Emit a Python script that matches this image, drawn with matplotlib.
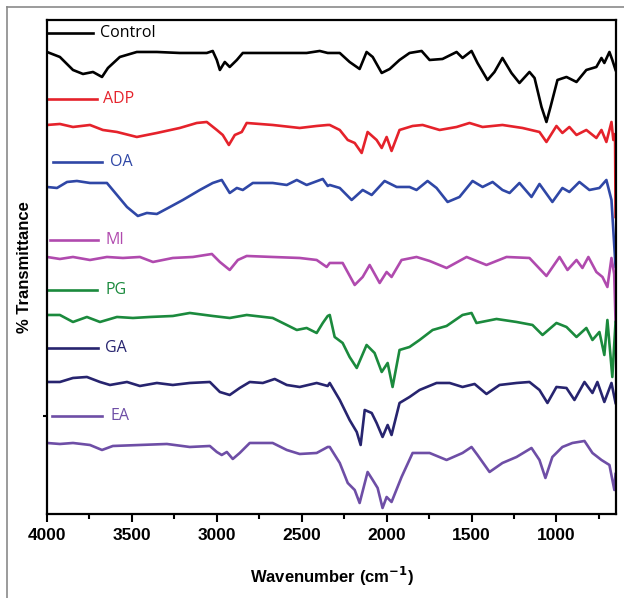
import matplotlib
matplotlib.use('Agg')
import matplotlib.pyplot as plt
from matplotlib.lines import Line2D
from matplotlib.ticker import MultipleLocator

# FTIR spectra, offset transmittance (arbitrary units)
wn_control = [4000, 3924, 3847, 3788, 3729, 3676, 3641, 3571, 3471, 3353, 3218, 3059, 3024, 3000,
              2982, 2953, 2924, 2882, 2847, 2671, 2471, 2394, 2347, 2335, 2276, 2218, 2159, 2118,
              2082, 2029, 1982, 1924, 1865, 1794, 1747, 1671, 1588, 1553, 1500, 1465, 1406, 1365,
              1318, 1265, 1218, 1159, 1129, 1088, 1059, 1035, 994, 941, 882, 824, 765, 735, 718,
              688, 671, 652]
t_control = [462, 457, 444, 440, 442, 437, 446, 457, 462, 462, 461, 461, 463, 454,
             444, 452, 447, 454, 461, 461, 461, 463, 461, 461, 461, 452, 445, 462,
             457, 441, 445, 454, 461, 463, 454, 455, 462, 456, 463, 451, 434, 442,
             456, 441, 431, 442, 436, 407, 392, 407, 434, 437, 432, 444, 447, 456, 451,
             462, 454, 444]

wn_adp = [4000, 3924, 3847, 3747, 3671, 3588, 3471, 3353, 3218, 3118, 3059, 3000, 2965, 2929,
          2894, 2853, 2824, 2671, 2512, 2412, 2347, 2335, 2276, 2229, 2188, 2147, 2112, 2059,
          2029, 2000, 1971, 1924, 1847, 1788, 1688, 1588, 1512, 1435, 1318, 1200, 1100, 1059,
          1000, 965, 924, 882, 824, 765, 735, 706, 676, 665, 655, 652]
t_adp = [389, 390, 387, 389, 384, 382, 377, 381, 386, 391, 392, 384, 379, 369,
         379, 382, 391, 389, 386, 388, 389, 389, 384, 374, 371, 361, 382, 374,
         366, 377, 363, 384, 388, 389, 384, 387, 391, 387, 389, 386, 382, 372,
         388, 381, 387, 379, 384, 376, 384, 372, 392, 374, 380, 297]

wn_oa = [4000, 3941, 3882, 3824, 3747, 3647, 3588, 3529, 3465, 3412, 3353, 3276, 3200, 3100,
         3024, 2971, 2924, 2882, 2847, 2788, 2671, 2588, 2529, 2471, 2376, 2347, 2335, 2276,
         2206, 2141, 2088, 2012, 1941, 1865, 1824, 1759, 1706, 1641, 1571, 1494, 1435, 1376,
         1318, 1276, 1218, 1147, 1100, 1024, 965, 924, 865, 806, 747, 706, 676, 652]
t_oa = [327, 326, 332, 333, 331, 331, 319, 307, 298, 301, 300, 307, 314, 324,
        331, 334, 321, 326, 324, 331, 331, 329, 334, 329, 335, 328, 329, 326,
        314, 324, 319, 333, 327, 327, 324, 333, 326, 312, 317, 333, 327, 332,
        324, 321, 331, 317, 330, 312, 326, 322, 332, 324, 326, 334, 314, 247]

wn_mi = [4000, 3924, 3847, 3747, 3647, 3553, 3453, 3376, 3259, 3141, 3029, 2982, 2924, 2876,
         2824, 2671, 2512, 2412, 2353, 2335, 2259, 2188, 2141, 2100, 2041, 2000, 1971, 1912,
         1824, 1747, 1647, 1529, 1412, 1294, 1159, 1059, 982, 935, 882, 847, 812, 765, 729,
         700, 676, 660, 652]
t_mi = [257, 255, 257, 254, 257, 256, 257, 252, 256, 257, 260, 252, 244, 254,
        258, 257, 256, 254, 247, 251, 251, 229, 237, 249, 231, 242, 237, 254,
        257, 253, 246, 257, 249, 257, 256, 238, 257, 244, 254, 246, 257, 242, 237,
        227, 256, 240, 192]

wn_pg = [4000, 3924, 3847, 3765, 3688, 3588, 3494, 3394, 3259, 3159, 3024, 2924, 2824, 2671,
         2588, 2529, 2471, 2412, 2376, 2347, 2335, 2306, 2259, 2218, 2176, 2118, 2071, 2029,
         1994, 1965, 1924, 1865, 1806, 1729, 1647, 1553, 1500, 1471, 1353, 1235, 1141, 1082,
         1000, 941, 882, 824, 788, 747, 718, 700, 671, 652]
t_pg = [199, 199, 192, 197, 192, 197, 196, 197, 198, 201, 198, 196, 199, 196,
        189, 184, 186, 181, 191, 198, 199, 177, 171, 157, 146, 169, 161, 142,
        151, 127, 164, 167, 174, 184, 188, 199, 201, 191, 195, 192, 189, 179,
        191, 187, 177, 186, 174, 182, 159, 194, 137, 192]

wn_ga = [4000, 3924, 3847, 3765, 3688, 3629, 3529, 3453, 3353, 3259, 3159, 3041, 2982, 2924,
         2865, 2806, 2729, 2659, 2588, 2512, 2412, 2347, 2335, 2276, 2218, 2176, 2153, 2129,
         2088, 2059, 2024, 1994, 1971, 1924, 1865, 1806, 1706, 1629, 1553, 1482, 1412, 1335,
         1235, 1159, 1100, 1053, 1000, 941, 894, 835, 788, 759, 718, 676, 652]
t_ga = [132, 132, 136, 137, 132, 129, 132, 128, 131, 129, 131, 132, 122, 119,
        126, 132, 131, 135, 129, 127, 131, 128, 131, 114, 94, 82, 69, 104,
        101, 91, 77, 89, 79, 111, 117, 124, 131, 131, 127, 130, 120, 129,
        131, 132, 124, 111, 127, 126, 114, 132, 121, 132, 112, 131, 111]

wn_ea = [4000, 3924, 3847, 3747, 3676, 3612, 3453, 3294, 3159, 3041, 3000, 2971, 2941, 2906,
         2865, 2806, 2671, 2588, 2512, 2412, 2347, 2335, 2276, 2229, 2188, 2159, 2112, 2082,
         2053, 2024, 2000, 1971, 1912, 1847, 1747, 1647, 1553, 1500, 1465, 1394, 1318, 1235,
         1147, 1100, 1065, 1024, 965, 906, 835, 788, 735, 688, 659, 652]
t_ea = [71, 70, 71, 69, 64, 68, 69, 70, 67, 68, 62, 59, 62, 55,
        61, 71, 71, 64, 60, 61, 67, 67, 51, 31, 24, 11, 42, 34,
        26, 6, 17, 12, 37, 61, 61, 54, 61, 67, 59, 42, 51, 57,
        66, 54, 36, 57, 67, 71, 73, 61, 54, 49, 24, 40]

names = ['Control', 'ADP', 'OA', 'MI', 'PG', 'GA', 'EA']
colors = ['#000000', '#e5222b', '#2f47a6', '#b04aae', '#1b8a3d', '#27246f', '#6e4ea6']
wns = [wn_control, wn_adp, wn_oa, wn_mi, wn_pg, wn_ga, wn_ea]
vals = [t_control, t_adp, t_oa, t_mi, t_pg, t_ga, t_ea]

# label positions (axes fraction): line start, line end, y, text x
lab_x0 = [0.002, 0.002, 0.011, 0.005, 0.002, 0.002, 0.009]
lab_x1 = [0.081, 0.088, 0.097, 0.090, 0.088, 0.090, 0.097]
lab_y = [0.974, 0.840, 0.713, 0.555, 0.453, 0.336, 0.198]
lab_tx = [0.093, 0.098, 0.111, 0.102, 0.102, 0.102, 0.111]

fig = plt.figure(figsize=(6.24, 5.98), dpi=100)
ax = fig.add_axes([0.0753, 0.1405, 0.9117, 0.8261])

for w, v, c in zip(wns, vals, colors):
    ax.plot(w, v, color=c, lw=1.9, solid_joinstyle='round')

for i in range(len(names)):
    ax.add_line(Line2D([lab_x0[i], lab_x1[i]], [lab_y[i], lab_y[i]], transform=ax.transAxes,
                       color=colors[i], lw=1.9))
    ax.text(lab_tx[i], lab_y[i], names[i], transform=ax.transAxes, color=colors[i],
            fontsize=11.5, family='Open Sans', va='center', ha='left')

ax.set_xlim(4000, 650)
ax.set_ylim(0, 494)
ax.xaxis.set_major_locator(MultipleLocator(500))
ax.xaxis.set_minor_locator(MultipleLocator(250))
ax.tick_params(axis='x', which='major', direction='out', length=6, width=1.5, pad=4)
ax.tick_params(axis='x', which='minor', direction='out', length=3.5, width=1.5)
ax.set_yticks([98])
ax.set_yticklabels([])
ax.tick_params(axis='y', direction='out', length=3, width=1.5)
for lbl in ax.get_xticklabels():
    lbl.set_fontweight('bold')
    lbl.set_fontsize(12.5)
    lbl.set_family('Liberation Sans')
for s in ax.spines.values():
    s.set_linewidth(1.6)

ax.set_xlabel('Wavenumber (cm$^{\\mathbf{-1}}$)', fontsize=12, fontweight='bold',
              family='Liberation Sans', labelpad=16)
ax.set_ylabel('% Transmittance', fontsize=12, fontweight='bold', family='Liberation Sans',
              labelpad=4)

# outer frame of the image
fig.add_artist(Line2D([7 / 624, 7 / 624], [0, 1 - 7 / 598], color='#8a8a8a', lw=1.2))
fig.add_artist(Line2D([7 / 624, 1], [1 - 7 / 598, 1 - 7 / 598], color='#8a8a8a', lw=1.2))

fig.savefig('out.png', dpi=100)
